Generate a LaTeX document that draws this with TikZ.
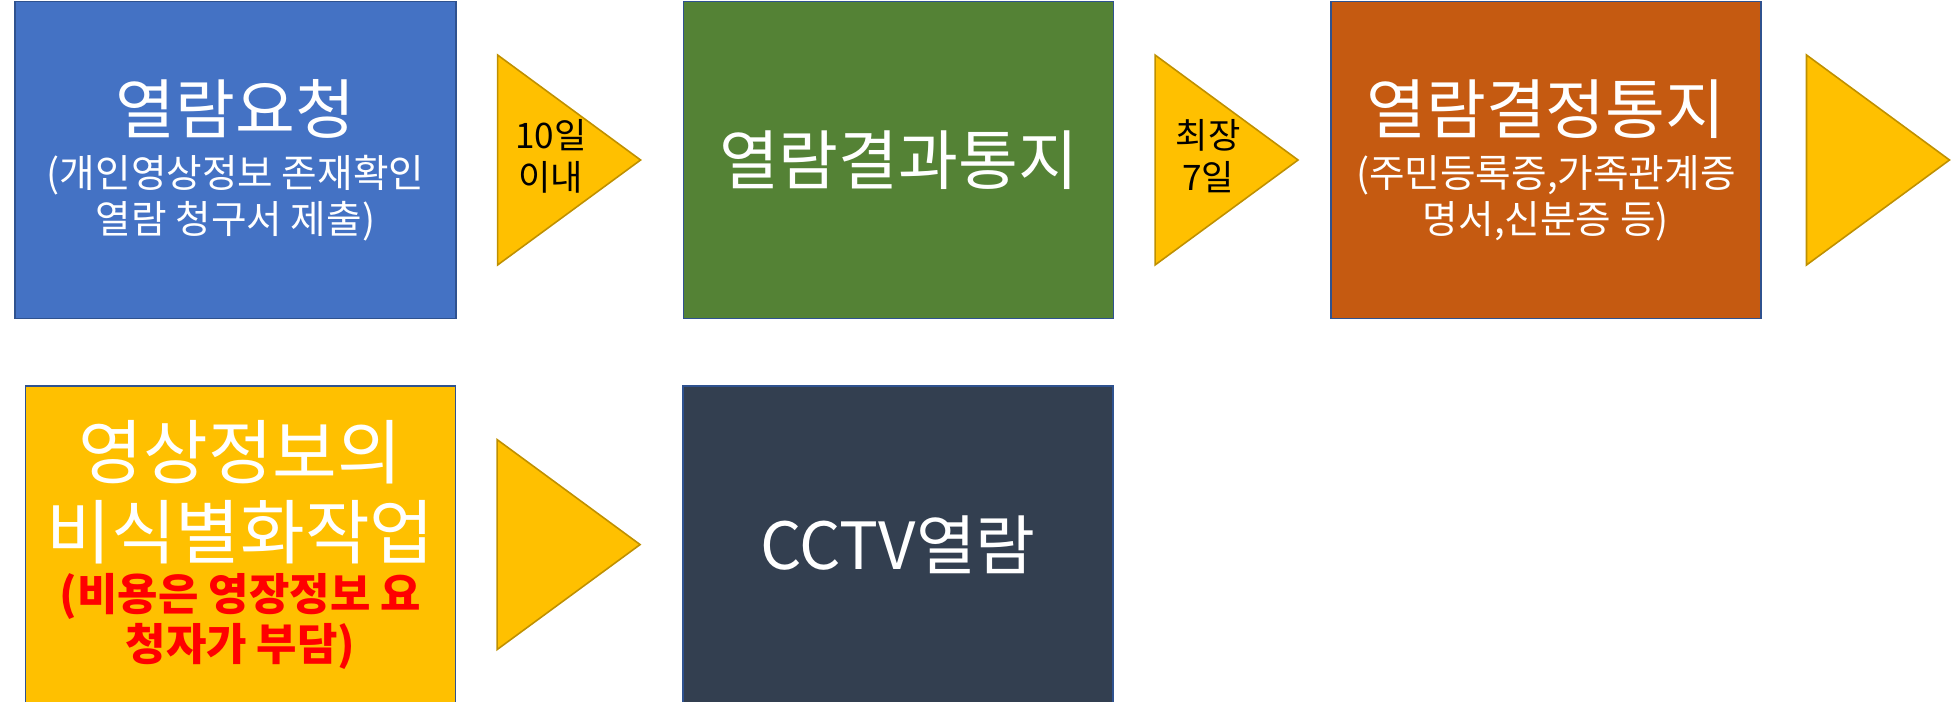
\documentclass[tikz,border=0pt]{standalone}
\usepackage{fontspec}
\setmainfont{Noto Sans CJK KR}
\usetikzlibrary{shapes.geometric, positioning}
\definecolor{reqblue}{HTML}{4472C4}
\definecolor{resgreen}{HTML}{548235}
\definecolor{decorange}{HTML}{C55A11}
\definecolor{triyellow}{HTML}{FFC000}
\definecolor{viewnavy}{HTML}{333F50}
\definecolor{boxline}{HTML}{2F528F}
\definecolor{triline}{HTML}{BF9000}
\newcommand{\subfont}{\fontsize{11}{12}\selectfont}
\newcommand{\bigfont}{\fontsize{20}{21}\selectfont}
\newcommand{\notefont}{\fontsize{12.5}{14}\selectfont\bfseries\color{red}}
% text of a triangle, kept from changing its size
\newcommand{\tritext}[2]{\smash{\makebox[0pt]{\raisebox{-2.6pt}{\begin{tabular}{@{}c@{}}#1\\[-1.5pt]#2\end{tabular}}}}}
\tikzset{
  stepbox/.style={draw=boxline, line width=0.45pt, text=white, align=center,
    minimum width=4.3cm, minimum height=3.17cm, inner sep=0pt,
    font=\fontsize{18.5}{21}\selectfont},
  arrowtri/.style={isosceles triangle, isosceles triangle stretches,
    draw=triline, fill=triyellow, line width=0.45pt,
    minimum width=2.1cm, minimum height=1.43cm, inner sep=0pt,
    font=\fontsize{10}{13.4}\selectfont}
}
\begin{document}
\begin{tikzpicture}[node distance=0.4cm]
    \useasboundingbox (0,0) rectangle (19.52,-7.02);
    \node[stepbox, fill=reqblue, minimum width=4.41cm] (request) at (2.355,-1.60)
        {열람요청\\[-5.5pt]\subfont (개인영상정보 존재확인\\[-8pt]\subfont 열람 청구서 제출)};
    \node[arrowtri, right=of request] (tenday) {\tritext{10일}{이내}};
    \node[stepbox, fill=resgreen, right=of tenday] (result) {열람결과통지};
    \node[arrowtri, right=of result] (sevenday) {\tritext{최장}{7일}};
    \node[stepbox, fill=decorange, right=0.3cm of sevenday] (decision)
        {열람결정통지\\[-5.5pt]\subfont (주민등록증,가족관계증\\[-8pt]\subfont 명서,신분증 등)};
    \node[arrowtri, right=0.44cm of decision] (nextstep) {};

    \node[stepbox, fill=triyellow, below=0.66cm of request, xshift=0.05cm] (masking)
        {\bigfont 영상정보의\\[1.8pt]\bigfont 비식별화작업\\[-6.2pt]
         \notefont(비용은 영장정보 요\\[-6.8pt]\notefont 청자가 부담)};
    \node[arrowtri, right=of masking] (maskstep) {};
    \node[stepbox, fill=viewnavy, right=of maskstep] (viewing) {CCTV열람};
\end{tikzpicture}
\end{document}
